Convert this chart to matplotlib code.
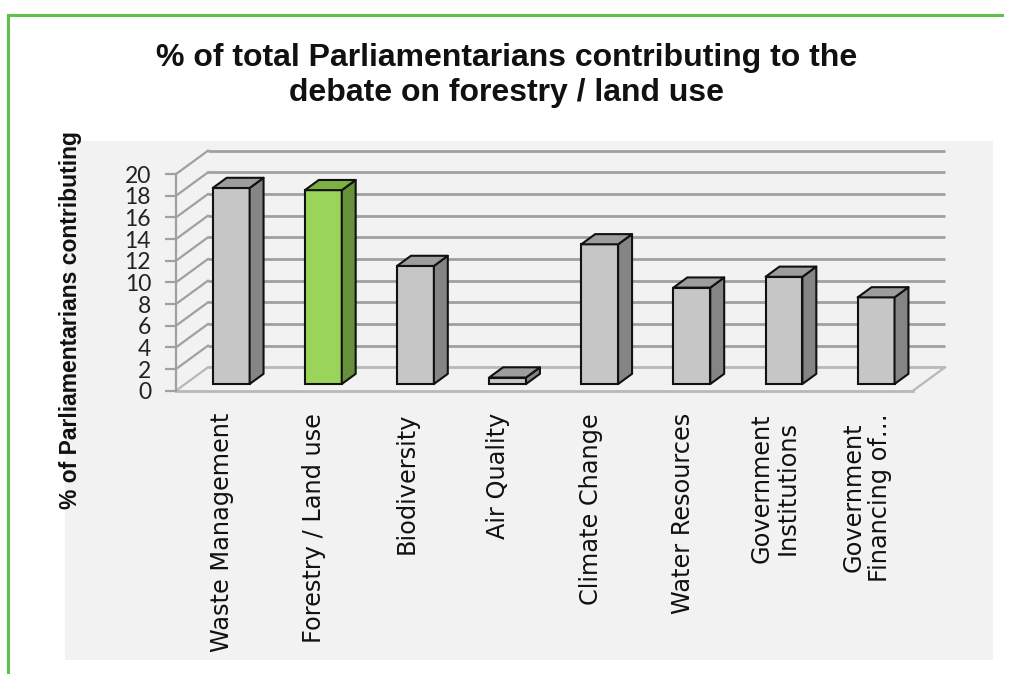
import matplotlib
matplotlib.use("Agg")
import matplotlib.pyplot as plt
from matplotlib.patches import Polygon, Rectangle
from matplotlib.lines import Line2D

# ---------------- data ----------------
categories = ["Waste Management", "Forestry / Land use", "Biodiversity", "Air Quality",
              "Climate Change", "Water Resources", "Government\nInstitutions",
              "Government\nFinancing of…"]
values = [18.1, 17.9, 10.9, 0.6, 12.9, 8.9, 9.9, 8.0]
highlight = "Forestry / Land use"
yticks = list(range(0, 21, 2))
title = "% of total Parliamentarians contributing to the\ndebate on forestry / land use"
ylabel = "% of Parliamentarians contributing"

# ---------------- figure ----------------
W, H = 1013, 674
fig = plt.figure(figsize=(W / 100, H / 100), dpi=100)
fig.patch.set_facecolor("white")

def fx(px):
    return px / W

def fy(py):
    return 1 - py / H

# plot-area panel and green frame
fig.patches.append(Rectangle((fx(65), fy(660)), fx(993) - fx(65), fy(141) - fy(660),
                             transform=fig.transFigure, facecolor="#f2f2f2",
                             edgecolor="none", zorder=-10))
green = "#5fc04c"
fig.lines.append(Line2D([fx(8), fx(1002)], [fy(15), fy(15)], transform=fig.transFigure,
                        color=green, lw=2.2, zorder=-5))
fig.lines.append(Line2D([fx(8), fx(8)], [fy(15), fy(674)], transform=fig.transFigure,
                        color=green, lw=2.2, zorder=-5))

fig.text(0.5, fy(43), title, ha="center", va="top", fontsize=23, fontweight="bold",
         family="Liberation Sans", linespacing=1.2, color="#111111")

# ---------------- 3D-like axes ----------------
n = len(categories)
DX = 0.347   # depth offset in category units
DY = 2.16    # depth offset in value units
ymax = 20

ax_left, ax_right = 176, 945
ax_bottom, ax_top = 390.7, 150.7
ax = fig.add_axes([fx(ax_left), fy(ax_bottom), fx(ax_right) - fx(ax_left),
                   fy(ax_top) - fy(ax_bottom)])
ax.set_facecolor("none")
ax.set_xlim(-0.5, n - 0.5 + DX)
ax.set_ylim(0, ymax + DY)

grid_c = "#a0a0a0"
floor_c = "#b8b8b8"
x0, x1 = -0.5, n - 0.5

# back wall gridlines + left wall diagonals
for v in yticks:
    ax.plot([x0 + DX, x1 + DX], [v + DY, v + DY], color=grid_c if v > 0 else floor_c,
            lw=2.0, zorder=1, solid_capstyle="butt", clip_on=False)
    ax.plot([x0, x0 + DX], [v, v + DY], color=grid_c if v > 0 else floor_c,
            lw=1.6, zorder=1, clip_on=False)
# floor
ax.plot([x0, x1], [0, 0], color=floor_c, lw=2.0, zorder=1, clip_on=False)
ax.plot([x1, x1 + DX], [0, DY], color=floor_c, lw=1.6, zorder=1, clip_on=False)

# y axis (front left)
for s in ["top", "right", "bottom"]:
    ax.spines[s].set_visible(False)
ax.spines["left"].set_bounds(0, ymax)
ax.spines["left"].set_color(grid_c)
ax.spines["left"].set_linewidth(1.6)
ax.set_yticks(yticks)
ax.set_yticklabels([str(t) for t in yticks], family="Lato", fontsize=16.5, color="#222222")
ax.tick_params(axis="y", direction="out", length=8, width=1.6, color=grid_c, pad=10)
ax.set_xticks(range(n))
ax.set_xticklabels(categories, rotation=90, family="DejaVu Sans", fontsize=17.3,
                   color="#111111", ha="center", va="top", multialignment="center",
                   linespacing=1.1)
ax.tick_params(axis="x", length=0, pad=16)

ax.set_ylabel(ylabel, family="Liberation Sans", fontweight="bold", fontsize=16.5,
              color="#111111")
ax.yaxis.set_label_coords((82 - ax_left) / (ax_right - ax_left),
                          (ax_bottom - 320) / (ax_bottom - ax_top))

# bars
d0 = 0.286    # front face depth
bd = 0.435    # bar depth
bw = 0.40
for i, (cat, v) in enumerate(zip(categories, values)):
    if cat == highlight:
        cf, cs, ct = "#9bd45a", "#66913a", "#7cb043"
    else:
        cf, cs, ct = "#c6c6c6", "#858585", "#9d9d9d"
    xl = i + d0 * DX - bw / 2
    xr = xl + bw
    yb = d0 * DY
    ax.bar(i + d0 * DX, v, bottom=yb, width=bw, color=cf, edgecolor="#111111",
           lw=1.5, zorder=3)
    ex, ey = bd * DX, bd * DY
    side = Polygon([(xr, yb), (xr + ex, yb + ey), (xr + ex, yb + v + ey), (xr, yb + v)],
                   closed=True, facecolor=cs, edgecolor="#111111", lw=1.5, zorder=3,
                   joinstyle="round")
    top = Polygon([(xl, yb + v), (xr, yb + v), (xr + ex, yb + v + ey), (xl + ex, yb + v + ey)],
                  closed=True, facecolor=ct, edgecolor="#111111", lw=1.5, zorder=3,
                  joinstyle="round")
    ax.add_patch(side)
    ax.add_patch(top)

fig.savefig("out.png", dpi=100)
